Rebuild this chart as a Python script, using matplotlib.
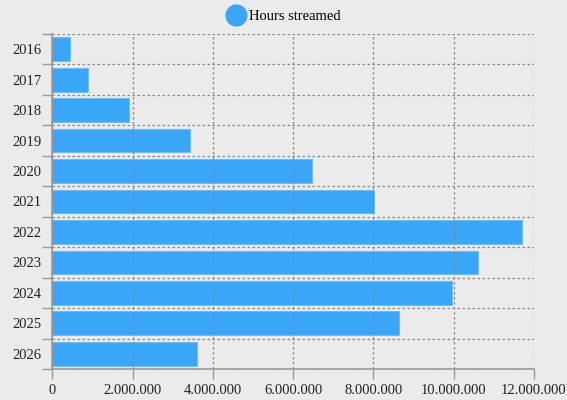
import matplotlib
matplotlib.use("Agg")
import matplotlib.pyplot as plt
from matplotlib.ticker import FuncFormatter, FixedLocator
from matplotlib.lines import Line2D

years = ["2016", "2017", "2018", "2019", "2020", "2021", "2022", "2023", "2024", "2025", "2026"]
hours = [450000, 890000, 1900000, 3420000, 6470000, 8020000, 11710000, 10620000, 9950000, 8640000, 3600000]
series_name = "Hours streamed"

plt.rcParams['font.family'] = ['Liberation Serif', 'DejaVu Serif']
bg = '#ebebeb'
bar_color = '#3ba6f7'
grid_color = '#888888'
axis_color = '#999999'

fig = plt.figure(figsize=(5.67, 4.0), dpi=100, facecolor=bg)
ax = fig.add_axes([0.0925, 0.0775, 0.849, 0.8375], facecolor=bg)

pos = list(range(len(years)))
ax.barh(pos, hours, height=0.78, color=bar_color, edgecolor='#6cbcf8', linewidth=0.8, zorder=1)

ax.set_ylim(len(years) - 0.5, -0.5)
ax.set_xlim(0, 12000000)
ax.set_xticks([0, 2e6, 4e6, 6e6, 8e6, 10e6, 12e6])
ax.xaxis.set_major_formatter(FuncFormatter(lambda v, p: f"{int(v):,}".replace(",", ".")))
ax.set_yticks(pos)
ax.set_yticklabels(years)
ax.yaxis.set_minor_locator(FixedLocator([i - 0.5 for i in range(len(years) + 1)]))

ax.tick_params(axis='y', which='major', length=0, pad=8, labelsize=10.5)
ax.tick_params(axis='y', which='minor', length=7, color=axis_color, width=1)
ax.tick_params(axis='x', which='major', length=7, color=axis_color, width=1, labelsize=10.5)
ax.tick_params(axis='x', labelcolor='#222222')
ax.tick_params(axis='y', labelcolor='#222222')

for s in ['top', 'right']:
    ax.spines[s].set_visible(False)
for s in ['left', 'bottom']:
    ax.spines[s].set_color(axis_color)
    ax.spines[s].set_linewidth(1.2)
    ax.spines[s].set_zorder(3)

ax.grid(axis='x', which='major', color=grid_color, linestyle=(0, (2, 2)), linewidth=0.9, zorder=2)
ax.grid(axis='y', which='minor', color=grid_color, linestyle=(0, (2, 2)), linewidth=0.9, zorder=2)
ax.grid(axis='y', which='major', visible=False)
ax.set_axisbelow(False)

handle = Line2D([], [], marker='o', linestyle='none', markersize=15, markerfacecolor=bar_color, markeredgecolor=bar_color)
fig.legend([handle], [series_name], loc='center', bbox_to_anchor=(0.5, 0.958), frameon=False,
           fontsize=10.5, handletextpad=0.3, handlelength=1.2)

fig.savefig("out.png", dpi=100, facecolor=bg)
